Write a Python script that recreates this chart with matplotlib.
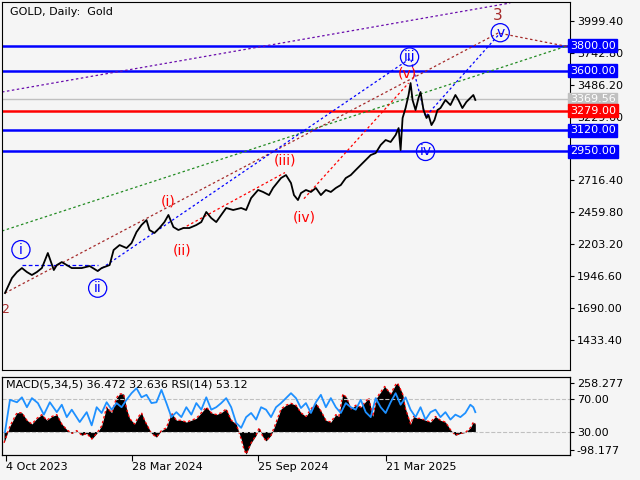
import matplotlib
matplotlib.use("Agg")
import matplotlib.pyplot as plt
import matplotlib.transforms as mtransforms

px = [3,10,15,20,25,30,35,40,46,52,55,60,65,70,80,88,96,100,108,112,118,125,130,135,140,145,148,153,158,163,167,172,177,182,188,195,200,205,210,215,220,225,232,240,245,250,257,262,268,272,280,285,290,293,297,300,305,310,315,320,325,330,335,340,345,350,355,360,365,370,375,380,385,390,395,398,400,402,405,408,410,412,415,418,420,423,426,428,431,434,437,440,445,450,455,458,462,466,470,473,475]
price = [1811,1932,1980,2012,1980,1956,1980,2012,2133,1996,2036,2060,2036,2012,2012,2028,1988,2012,2036,2157,2197,2173,2213,2302,2358,2398,2318,2294,2334,2382,2439,2342,2318,2334,2334,2358,2382,2463,2414,2382,2439,2495,2479,2495,2479,2575,2640,2624,2599,2656,2736,2760,2696,2599,2559,2615,2640,2624,2656,2599,2640,2624,2656,2680,2736,2760,2801,2841,2881,2921,2937,3002,3042,3026,3082,3138,2961,3219,3299,3404,3500,3364,3283,3380,3428,3283,3219,3243,3162,3203,3283,3299,3364,3323,3404,3364,3299,3348,3380,3404,3364]

mx = [2,8,15,20,25,30,35,40,45,50,55,60,65,70,75,80,85,90,95,100,105,110,115,118,122,125,128,133,137,140,143,147,150,155,160,165,170,175,180,185,190,195,200,205,210,215,220,225,230,235,240,243,245,250,255,258,262,265,270,273,280,285,290,295,300,305,310,315,320,325,330,335,338,342,346,350,355,360,365,368,372,376,380,384,390,395,397,402,405,410,413,417,420,425,430,435,440,445,450,455,460,465,470,473,475]
macd = [-60,30,100,100,60,40,70,90,60,80,90,40,10,-10,5,-20,-10,-40,-10,30,130,100,180,200,200,120,70,40,80,100,60,20,-10,-30,5,20,100,60,60,50,60,70,100,130,100,90,100,120,60,40,-40,-98,-120,-60,-20,20,-30,-50,-20,20,120,140,150,140,100,80,120,150,110,60,50,90,80,200,180,120,140,130,160,180,80,180,210,240,200,250,258,200,120,40,80,70,70,60,50,80,60,50,10,-20,-10,-5,20,50,40]

rx = list(range(3,476,5))
rx = [3,8,15,20,25,30,36,42,48,55,60,65,70,78,85,90,95,100,105,110,115,120,125,130,135,140,145,150,155,160,165,170,175,180,185,190,195,200,205,210,215,220,225,230,235,240,245,250,255,260,265,270,275,280,285,290,295,300,305,310,315,320,325,330,335,340,345,350,355,360,365,370,375,380,385,390,395,400,405,410,415,420,425,430,435,440,445,450,455,460,465,470,473,475]
rsi = [30,69,66,72,60,71,65,51,66,54,63,48,57,42,54,38,60,53,66,57,65,60,69,77,83,72,75,65,66,81,65,48,54,48,60,51,65,57,72,57,60,65,71,60,41,35,48,53,45,60,57,48,60,65,71,77,71,59,65,53,66,75,60,71,60,53,65,60,57,69,54,48,71,60,53,66,77,63,72,57,48,60,45,54,57,48,54,45,51,48,53,63,60,54]

levels_blue = [3800, 3600, 3120, 2950]
level_red = 3279
last_price = 3369.56
yticks = [3999.40, 3742.80, 3486.20, 3229.60, 2716.40, 2459.80, 2203.20, 1946.60, 1690.00, 1433.40]
date_pos = [4, 130, 257, 385]
date_labels = ["4 Oct 2023", "28 Mar 2024", "25 Sep 2024", "21 Mar 2025"]

bg = "#f5f5f5"
fig = plt.figure(figsize=(6.4, 4.8), dpi=100, facecolor=bg)
ax = fig.add_axes([2/640, 1-370/480, 568/640, 368/480], facecolor=bg)
ax2 = fig.add_axes([2/640, 1-455/480, 568/640, 78/480], facecolor=bg)
for a in (ax, ax2):
    a.set_xlim(0, 570)
    for s in a.spines.values():
        s.set_linewidth(0.8)
ax.set_ylim(1192, 4152)

ax.axhline(last_price, color="#c0c0c0", lw=1)
for l in levels_blue:
    ax.axhline(l, color="#0000ff", lw=1.8)
ax.axhline(level_red, color="#ff0000", lw=1.8)

# trend lines
ax.plot([0, 510], [3428, 4144], ls=(0, (2, 2)), color="#6a0dad", lw=0.9)
ax.plot([0, 570], [2310, 3806], ls=(0, (2, 2)), color="#228b22", lw=0.9)
ax.plot([3, 498, 570], [1811, 3903, 3790], ls=(0, (2, 2)), color="#a52a2a", lw=0.9)
ax.plot([96, 410, 425, 500], [1988, 3700, 3230, 3903], ls=(0, (2, 2)), color="#0000ff", lw=0.9)
ax.plot([181, 284], [2330, 2780], ls=(0, (2, 2)), color="#ff0000", lw=0.9)
ax.plot([303, 408], [2570, 3500], ls=(0, (2, 2)), color="#ff0000", lw=0.9)
ax.plot([20, 96], [2040, 2040], ls=(0, (3, 2)), color="#0000ff", lw=0.9)

ax.plot(px, price, color="black", lw=1.3)

def circ(x, y, t):
    ax.text(x, y, t, color="#0000ff", fontsize=10, ha="center", va="center",
            bbox=dict(boxstyle="circle,pad=0.15", fc="none", ec="#0000ff", lw=0.9))
circ(19, 2160, "i"); circ(96, 1850, "ii"); circ(409, 3710, "iii"); circ(425, 2950, "iv"); circ(500, 3905, "v")
for x, y, t in [(167, 2550, "(i)"), (181, 2150, "(ii)"), (284, 2880, "(iii)"), (303, 2420, "(iv)"), (407, 3580, "(v)")]:
    ax.text(x, y, t, color="#ff0000", fontsize=10, ha="center", va="center")
ax.text(497, 4045, "3", color="#a52a2a", fontsize=11, ha="center", va="center")
ax.text(3, 1675, "2", color="#a52a2a", fontsize=9, ha="center", va="center")
ax.text(8, 4110, "GOLD, Daily:  Gold", fontsize=8, va="top", ha="left")

ax.yaxis.tick_right()
ax.set_yticks(yticks)
ax.set_yticklabels([f"{v:.2f}" for v in yticks], fontsize=8)
ax.tick_params(axis="y", length=3, pad=2)
ax.set_xticks([])
tr = mtransforms.blended_transform_factory(ax.transAxes, ax.transData)
for v, c in [(3800, "#0000ff"), (3600, "#0000ff"), (last_price, "#c0c0c0"), (3279, "#ff0000"), (3120, "#0000ff"), (2950, "#0000ff")]:
    ax.text(1.0, v, f"{v:.2f}", transform=tr, fontsize=8, color="white", va="center", ha="left",
            bbox=dict(boxstyle="square,pad=0.15", fc=c, ec=c))

# lower panel
ax2.set_ylim(-125, 290)
ax2.fill_between(mx, 0, macd, color="black", lw=0)
ax2.plot(mx, macd, color="#ff0000", ls=(0, (2, 2)), lw=0.9)
ax2.axhline(-2.4, color="#c0c0c0", ls="--", lw=0.8)
ax2.axhline(173, color="#c0c0c0", ls="--", lw=0.8)
ax3 = ax2.twinx()
ax3.set_ylim(2.1, 96.6)
ax3.plot(rx, rsi, color="#1e90ff", lw=1.3)
ax3.set_yticks([])
ax2.yaxis.tick_right()
ax2.set_yticks([258.277, 173, -2.4, -98.177])
ax2.set_yticklabels(["258.277", "70.00", "30.00", "-98.177"], fontsize=8)
ax2.tick_params(axis="y", length=3, pad=2)
ax2.set_xticks(date_pos)
ax2.set_xticklabels(date_labels, fontsize=8, ha="left")
ax2.tick_params(axis="x", length=4, pad=1)
ax2.text(4, 275, "MACD(5,34,5) 36.472 32.636 RSI(14) 53.12", fontsize=8, va="top")

fig.savefig("out.png", dpi=100, facecolor=bg)
